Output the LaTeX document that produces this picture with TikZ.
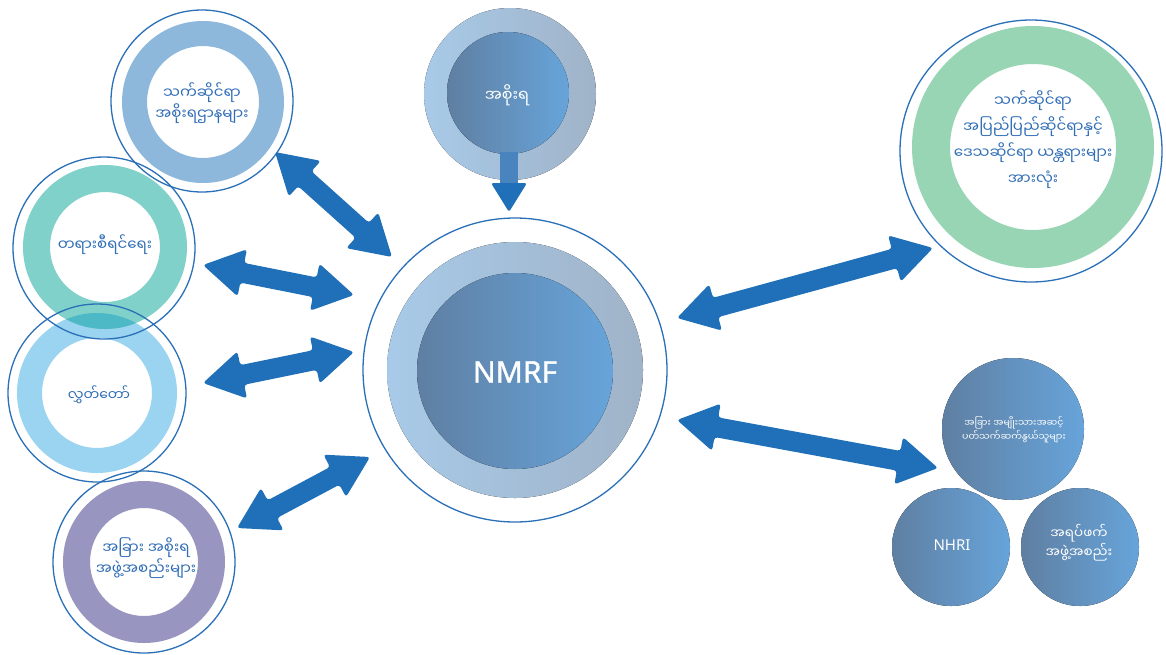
\documentclass[tikz,border=0pt]{standalone}
\usepackage{fontspec}
\setmainfont{Noto Sans}
\newfontfamily\mya[Script=Myanmar]{Noto Sans Myanmar UI}
\newfontfamily\latb[FakeBold=1.2]{Noto Sans}
\usetikzlibrary{calc}
\definecolor{arr}{HTML}{1F70B8}
\definecolor{shaftc}{HTML}{4A84BE}
\definecolor{thinc}{HTML}{2A70B8}
\definecolor{txt}{HTML}{2F6DB5}
\definecolor{dkL}{HTML}{5F7FA2}
\definecolor{dkR}{HTML}{67A4DA}
\definecolor{rgL}{HTML}{A8CAE8}
\definecolor{rgR}{HTML}{A0B3C8}
\definecolor{cgov}{HTML}{8DB8DC}
\definecolor{cjud}{HTML}{80D1C9}
\definecolor{cpar}{HTML}{9BD4F0}
\definecolor{coth}{HTML}{9896C0}
\definecolor{cint}{HTML}{98D5B5}
\definecolor{cov}{HTML}{4DB9C6}
\tikzset{
  thinring/.style={draw=thinc, line width=1.3pt},
  mytext/.style={align=center, text=txt, font=\mya\fontsize{15}{19}\selectfont, inner sep=0pt},
  whitetext/.style={align=center, text=white, font=\mya\fontsize{15}{19}\selectfont, inner sep=0pt},
  dark/.style={left color=dkL, right color=dkR},
}
\newcommand\myring[4]{\fill[#4, even odd rule] (#1) circle (#2pt) circle (#3pt);}
\newcommand\dblarr[2]{%
  \coordinate (p1) at ($(#1)!40pt!(#2)$);
  \coordinate (p2) at ($(#2)!40pt!(#1)$);
  \fill[arr, rounded corners=3pt] (#1) -- ($(p1)!24pt!90:(#2)$) -- ($(p1)!10pt!90:(#2)$)
    -- ($(p2)!10pt!-90:(#1)$) -- ($(p2)!24pt!-90:(#1)$) -- (#2)
    -- ($(p2)!24pt!90:(#1)$) -- ($(p2)!10pt!90:(#1)$)
    -- ($(p1)!10pt!-90:(#2)$) -- ($(p1)!24pt!-90:(#2)$) -- cycle;}
\begin{document}
\begin{tikzpicture}[x=1pt,y=-1pt]
\useasboundingbox[fill=white] (0,0) rectangle (1166,654);
% centres
\coordinate (cgovc) at (203,102);
\coordinate (cjudc) at (105,247);
\coordinate (cparc) at (97,393);
\coordinate (cothc) at (144,562);
\coordinate (cintc) at (1033,147);
\coordinate (cnm) at (515,370);
\coordinate (ctop) at (510,94);
% rings
\myring{cparc}{80}{55}{cpar}
\myring{cjudc}{82}{55}{cjud}
\begin{scope}
  \clip (cjudc) circle (82pt);
  \fill[cov] (cparc) circle (80pt);
\end{scope}
\myring{cgovc}{81}{56}{cgov}
\myring{cothc}{81}{54}{coth}
\myring{cintc}{121}{83}{cint}
% central
\fill[left color=rgL, right color=rgR] (cnm) circle (128pt);
\fill[dark] (515,371) circle (98pt);
% top
\fill[left color=rgL, right color=rgR] (ctop) circle (86pt);
\fill[dark] (508,93) circle (61pt);
% bottom right
\fill[dark] (1013,429) circle (71pt);
\fill[dark] (951,547) circle (59pt);
\fill[dark] (1080,547) circle (59pt);
% thin rings
\draw[thinring] (202,101) circle (91pt);
\draw[thinring] (104,248) circle (91pt);
\draw[thinring] (97,393) circle (89pt);
\draw[thinring] (144,562) circle (91pt);
\draw[thinring] (1031,151) circle (131pt);
\draw[thinring] (cnm) circle (152pt);
% text nodes
\node[mytext] (gov) at (202,103) {သက်ဆိုင်ရာ\\အစိုးရဌာနများ};
\node[mytext] (jud) at (105,245) {တရားစီရင်ရေး};
\node[mytext, font=\mya\fontsize{14}{19}\selectfont] (par) at (99,395) {လွှတ်တော်};
\node[mytext] (oth) at (146,558) {အခြား အစိုးရ\\အဖွဲ့အစည်းများ};
\node[mytext, font=\mya\fontsize{15}{26}\selectfont] (int) at (1033,140) {သက်ဆိုင်ရာ\\အပြည်ပြည်ဆိုင်ရာနှင့်\\ဒေသဆိုင်ရာ ယန္တရားများ\\အားလုံး};
\node[whitetext, font=\mya\fontsize{16}{19}\selectfont] (govt) at (507,95) {အစိုးရ};
\node[whitetext, font=\mya\fontsize{9.5}{13.5}\selectfont] (nat) at (1014,430) {အခြား အမျိုးသားအဆင့်\\ပတ်သက်ဆက်နွယ်သူများ};
\node[text=white, font=\fontsize{15}{18}\selectfont, inner sep=0pt] (nhri) at (952,545) {NHRI};
\node[whitetext, font=\mya\fontsize{13.5}{17}\selectfont] (civ) at (1079,543) {အရပ်ဖက်\\အဖွဲ့အစည်း};
\node[text=white, font=\latb\fontsize{30}{36}\selectfont, inner sep=0pt] (nmrf) at (515,372) {NMRF};
% top arrow
\fill[shaftc] (500,152) rectangle (518,186);
\fill[arr, rounded corners=2.5pt] (491,183) -- (527,183) -- (509,212) -- cycle;
% double arrows
\coordinate (a1) at (275,152); \coordinate (b1) at (392,257);
\coordinate (a2) at (203,265); \coordinate (b2) at (354,295);
\coordinate (a3) at (203,383); \coordinate (b3) at (354,352);
\coordinate (a4) at (237,528); \coordinate (b4) at (370,457);
\coordinate (a5) at (677,318); \coordinate (b5) at (933,248);
\coordinate (a6) at (677,420); \coordinate (b6) at (938,468);
\dblarr{a1}{b1}
\dblarr{a2}{b2}
\dblarr{a3}{b3}
\dblarr{a4}{b4}
\dblarr{a5}{b5}
\dblarr{a6}{b6}
\end{tikzpicture}
\end{document}
